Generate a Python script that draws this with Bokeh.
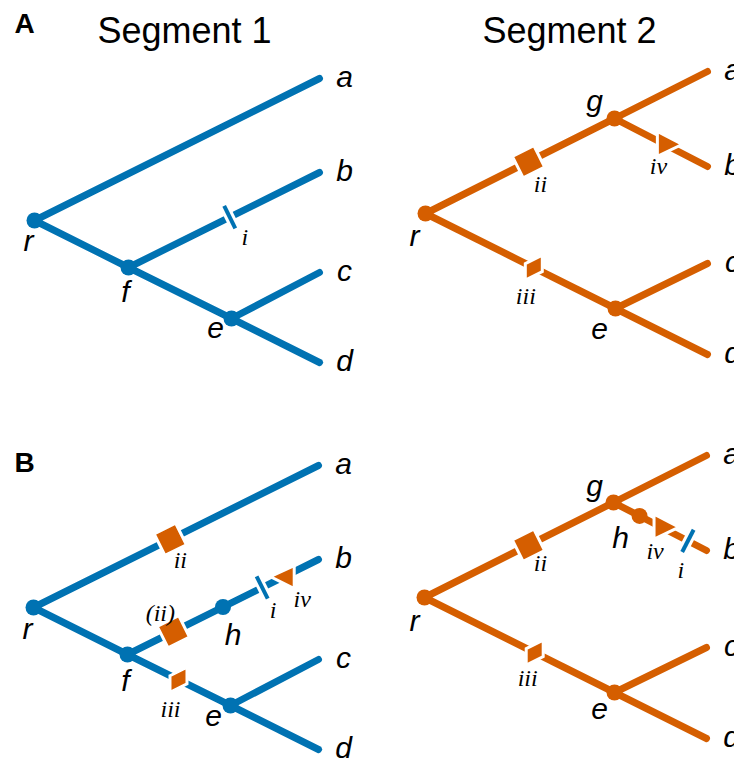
import numpy as np
from bokeh.plotting import figure
from bokeh.models import Range1d
from bokeh.embed import file_html
from bokeh.resources import INLINE
from bokeh.core.properties import value

BLUE = "#0072B2"
ORANGE = "#D55E00"

# ---- data: tree topologies (node positions relative to root, in px) ----
seg1_nodes = {"r": (0, 0), "f": (94, 47), "e": (197, 98),
              "a": (285, -142), "b": (285, -48), "c": (285, 52), "d": (285, 142)}
seg1_edges = [("r", "a"), ("r", "f"), ("f", "b"), ("f", "e"), ("e", "c"), ("e", "d")]
seg2_nodes = {"r": (0, 0), "g": (189, -95), "e": (190, 95),
              "a": (282, -142), "b": (282, -47), "c": (282, 50), "d": (282, 141)}
seg2_edges = [("r", "g"), ("g", "a"), ("g", "b"), ("r", "e"), ("e", "c"), ("e", "d")]
leaves = ["a", "b", "c", "d"]

# panels: name -> (root position, tree, colour)
panels = {
    "A1": ((34, 220), "seg1", BLUE),
    "A2": ((425, 213), "seg2", ORANGE),
    "B1": ((33, 607), "seg1", BLUE),
    "B2": ((424, 597), "seg2", ORANGE),
}
trees = {"seg1": (seg1_nodes, seg1_edges), "seg2": (seg2_nodes, seg2_edges)}

# internal node labels: (panel, node, label offset)
internal_labels = [
    ("A1", "r", (-6, 20)), ("A1", "f", (-3, 24)), ("A1", "e", (-16, 9)),
    ("A2", "r", (-11, 22)), ("A2", "g", (-20, -18)), ("A2", "e", (-16, 20)),
    ("B1", "r", (-6, 21)), ("B1", "f", (-2, 26)), ("B1", "e", (-17, 10)),
    ("B2", "r", (-10, 23)), ("B2", "g", (-19, -17)), ("B2", "e", (-15, 16)),
]
# extra node h: (panel, edge, fraction, label offset)
h_nodes = [("B1", ("f", "b"), 0.5, (10, 27)), ("B2", ("g", "b"), 0.28, (-19, 22))]

# events on branches: (panel, edge, fraction, kind, colour, label, label offset)
events = [
    ("A1", ("f", "b"), 0.53, "tick", BLUE, "i", (15, 20)),
    ("A2", ("r", "g"), 0.545, "square", ORANGE, "ii", (12, 22)),
    ("A2", ("g", "b"), 0.59, "tri_right", ORANGE, "iv", (-11, 19)),
    ("A2", ("r", "e"), 0.57, "para", ORANGE, "iii", (-8, 28)),
    ("B1", ("r", "a"), 0.48, "square", ORANGE, "ii", (10, 21)),
    ("B1", ("f", "b"), 0.24, "square", ORANGE, "(ii)", (-13, -19)),
    ("B1", ("f", "b"), 0.705, "tick", BLUE, "i", (11, 22)),
    ("B1", ("f", "b"), 0.81, "tri_left", ORANGE, "iv", (20, 21)),
    ("B1", ("f", "e"), 0.495, "para", ORANGE, "iii", (-8, 29)),
    ("B2", ("r", "g"), 0.55, "square", ORANGE, "ii", (12, 18)),
    ("B2", ("r", "e"), 0.58, "para", ORANGE, "iii", (-7, 25)),
    ("B2", ("g", "b"), 0.565, "tri_right", ORANGE, "iv", (-11, 21)),
    ("B2", ("g", "b"), 0.8, "tick", BLUE, "i", (-7, 29)),
]

panel_letters = ["A", "B"]
letter_pos = [(24, 23), (24, 462)]
titles = ["Segment 1", "Segment 2"]
title_pos = [(184, 30), (569, 30)]

# ---- figure: data units == page pixels ----
W, H = 734, 759
p = figure(width=W, height=H, output_backend="svg", toolbar_location=None,
           x_range=Range1d(0, W), y_range=Range1d(H, 0),
           min_border=0, x_axis_location=None, y_axis_location=None)
p.grid.visible = False
p.outline_line_color = None
p.background_fill_color = "white"
p.border_fill_color = "white"


def absnode(panel, n):
    (ox, oy), tname, _ = panels[panel]
    nx, ny = trees[tname][0][n]
    return np.array([ox + nx, oy + ny], dtype=float)


def on_edge(panel, edge, t):
    a = absnode(panel, edge[0])
    b = absnode(panel, edge[1])
    pt = a + t * (b - a)
    u = (b - a) / np.linalg.norm(b - a)
    return pt, u


node_font = value("Liberation Sans")
num_font = value("Liberation Serif")
NODE_FS = "30px"
NUM_FS = "24px"

for name, ((ox, oy), tname, col) in panels.items():
    nodes, edges = trees[tname]
    xs, ys = [], []
    for s, t in edges:
        a = absnode(name, s)
        b = absnode(name, t)
        xs.append([a[0], b[0]])
        ys.append([a[1], b[1]])
    p.multi_line(xs, ys, line_color=col, line_width=7, line_cap="round")
    internal = [n for n in nodes if n not in leaves]
    p.scatter([absnode(name, n)[0] for n in internal], [absnode(name, n)[1] for n in internal],
              size=16, fill_color=col, line_color=None)
    lx = [absnode(name, n)[0] + 25 for n in leaves]
    ly = [absnode(name, n)[1] - 2 for n in leaves]
    p.text(lx, ly, text=leaves, text_font=node_font, text_font_style="italic",
           text_font_size=NODE_FS, text_align="center", text_baseline="middle", text_color="black")

# h nodes
for panel, edge, t, off in h_nodes:
    pt, u = on_edge(panel, edge, t)
    col = panels[panel][2]
    p.scatter([pt[0]], [pt[1]], size=16, fill_color=col, line_color=None)
    p.text([pt[0] + off[0]], [pt[1] + off[1]], text=["h"], text_font=node_font,
           text_font_style="italic", text_font_size=NODE_FS, text_align="center",
           text_baseline="middle", text_color="black")

# internal labels
for panel, n, off in internal_labels:
    q = absnode(panel, n)
    p.text([q[0] + off[0]], [q[1] + off[1]], text=[n], text_font=node_font,
           text_font_style="italic", text_font_size=NODE_FS, text_align="center",
           text_baseline="middle", text_color="black")

# events
for panel, edge, t, kind, col, lab, off in events:
    c, u = on_edge(panel, edge, t)
    v = np.array([-u[1], u[0]])
    if kind == "tick":
        ends = [c + 13.5 * v, c - 13.5 * v]
        p.line([e[0] for e in ends], [e[1] for e in ends], line_color="white", line_width=10, line_cap="butt")
        ends = [c + 12.5 * v, c - 12.5 * v]
        p.line([e[0] for e in ends], [e[1] for e in ends], line_color=col, line_width=4, line_cap="butt")
    else:
        if kind == "square":
            pts = [c + 12 * u + 12 * v, c + 12 * u - 12 * v, c - 12 * u - 12 * v, c - 12 * u + 12 * v]
        elif kind == "para":
            rel = [(-8.5, -4), (8.5, -12.5), (8.5, 4), (-8.5, 12.5)]
            pts = [c + np.array(r) for r in rel]
        elif kind == "tri_right":
            rel = [(-12, -15.5), (13, -2.5), (-12, 9.5)]
            pts = [c + np.array(r) for r in rel]
        else:  # tri_left
            rel = [(12, -12), (-12, -1), (12, 11)]
            pts = [c + np.array(r) for r in rel]
        p.patch([q[0] for q in pts], [q[1] for q in pts], fill_color=col,
                line_color="white", line_width=3, line_join="miter")
    p.text([c[0] + off[0]], [c[1] + off[1]], text=[lab], text_font=num_font,
           text_font_style="italic", text_font_size=NUM_FS, text_align="center",
           text_baseline="middle", text_color="black")

# titles and panel letters
p.text([q[0] for q in letter_pos], [q[1] for q in letter_pos], text=panel_letters,
       text_font=node_font, text_font_style="bold", text_font_size="28px",
       text_align="center", text_baseline="middle", text_color="black")
p.text([q[0] for q in title_pos], [q[1] for q in title_pos], text=titles,
       text_font=node_font, text_font_size="36px",
       text_align="center", text_baseline="middle", text_color="black")

open("out.html", "w").write(file_html(p, INLINE))
